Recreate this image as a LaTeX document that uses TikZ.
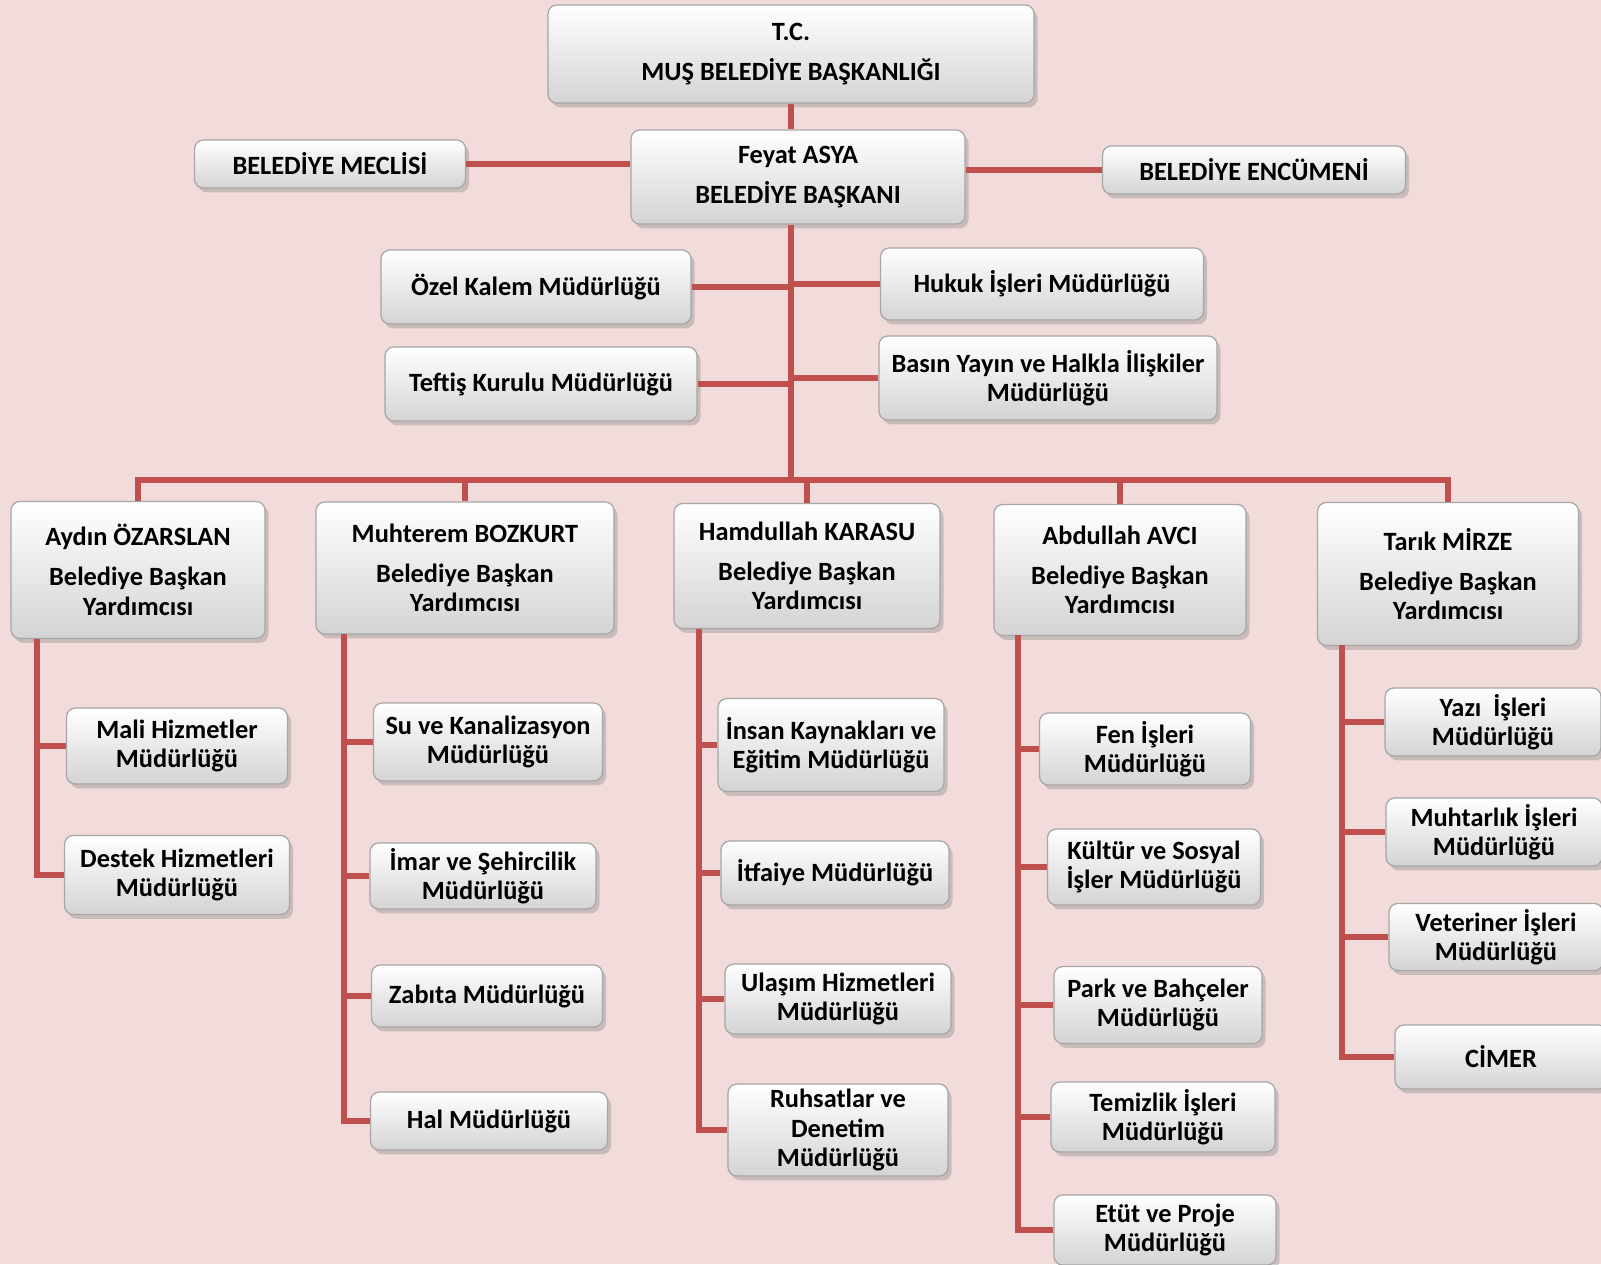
\documentclass[tikz,border=0pt]{standalone}
\usepackage{fontspec}
\setmainfont{Carlito}
\usetikzlibrary{shadows}
\definecolor{bgpink}{HTML}{F2DCDB}
\definecolor{linered}{HTML}{C0504D}

\begin{document}
\begin{tikzpicture}[x=0.02cm,y=-0.02cm,
    org node/.style={rectangle,rounded corners=5pt,draw=black!35,line width=0.7pt,
      top color=white,bottom color=black!17,align=center,inner sep=1pt,
      font=\fontsize{15}{16.8}\selectfont\bfseries,
      drop shadow={opacity=0.35,shadow xshift=2pt,shadow yshift=-2.5pt}},
    box size/.style 2 args={minimum width=#1*0.02cm,minimum height=#2*0.02cm},
    link/.style={draw=linered,line width=3.8pt}]
  \path[use as bounding box,clip] (0,0) rectangle (1601,1264);
  \fill[bgpink] (0,0) rectangle (1601,1264);

  % top of the chart
  \node[org node,box size={486}{98}] (tc) at (791,54) {T.C.\\[6pt]MUŞ BELEDİYE BAŞKANLIĞI};
  \node[org node,box size={334}{94}] (baskan) at (798,177) {Feyat ASYA\\[6pt]BELEDİYE BAŞKANI};
  \node[org node,box size={271}{48}] (meclis) at (330,164) {BELEDİYE MECLİSİ};
  \node[org node,box size={303}{48}] (encumen) at (1254,170) {BELEDİYE ENCÜMENİ};
  \node[org node,box size={310}{74}] (ozel) at (536,287) {Özel Kalem Müdürlüğü};
  \node[org node,box size={323}{72}] (hukuk) at (1042,284) {Hukuk İşleri Müdürlüğü};
  \node[org node,box size={312}{74}] (teftis) at (541,384) {Teftiş Kurulu Müdürlüğü};
  \node[org node,box size={338}{84}] (basin) at (1048,378) {Basın Yayın ve Halkla İlişkiler\\Müdürlüğü};

  % deputies
  \node[org node,box size={254}{137}] (yrd1) at (138,570) {Aydın ÖZARSLAN\\[6pt]Belediye Başkan\\Yardımcısı};
  \node[org node,box size={298}{132}] (yrd2) at (465,568) {Muhterem BOZKURT\\[6pt]Belediye Başkan\\Yardımcısı};
  \node[org node,box size={266}{125}] (yrd3) at (807,566) {Hamdullah KARASU\\[6pt]Belediye Başkan\\Yardımcısı};
  \node[org node,box size={252}{131}] (yrd4) at (1120,570) {Abdullah AVCI\\[6pt]Belediye Başkan\\Yardımcısı};
  \node[org node,box size={261}{143}] (yrd5) at (1448,574) {Tarık MİRZE\\[6pt]Belediye Başkan\\Yardımcısı};

  % units
  \node[org node,box size={221}{76}] (mali) at (177,746) {Mali Hizmetler\\Müdürlüğü};
  \node[org node,box size={225}{79}] (destek) at (177,875) {Destek Hizmetleri\\Müdürlüğü};

  \node[org node,box size={229}{78}] (su) at (488,742) {Su ve Kanalizasyon\\Müdürlüğü};
  \node[org node,box size={226}{66}] (imar) at (483,876) {İmar ve Şehircilik\\Müdürlüğü};
  \node[org node,box size={231}{62}] (zabita) at (487,996) {Zabıta Müdürlüğü};
  \node[org node,box size={237}{58}] (hal) at (489,1121) {Hal Müdürlüğü};

  \node[org node,box size={226}{93}] (insan) at (831,745) {İnsan Kaynakları ve\\Eğitim Müdürlüğü};
  \node[org node,box size={228}{64}] (itfaiye) at (835,873) {İtfaiye Müdürlüğü};
  \node[org node,box size={226}{70}] (ulasim) at (838,999) {Ulaşım Hizmetleri\\Müdürlüğü};
  \node[org node,box size={220}{92}] (ruhsat) at (838,1130) {Ruhsatlar ve\\Denetim\\Müdürlüğü};

  \node[org node,box size={211}{72}] (fen) at (1145,749) {Fen İşleri\\Müdürlüğü};
  \node[org node,box size={213}{76}] (kultur) at (1154,867) {Kültür ve Sosyal\\İşler Müdürlüğü};
  \node[org node,box size={208}{77}] (park) at (1158,1005) {Park ve Bahçeler\\Müdürlüğü};
  \node[org node,box size={224}{70}] (temizlik) at (1163,1117) {Temizlik İşleri\\Müdürlüğü};
  \node[org node,box size={222}{70}] (etut) at (1165,1230) {Etüt ve Proje\\Müdürlüğü};

  \node[org node,box size={216}{68}] (yazi) at (1493,722) {Yazı\ \ İşleri\\Müdürlüğü};
  \node[org node,box size={216}{68}] (muhtar) at (1494,832) {Muhtarlık İşleri\\Müdürlüğü};
  \node[org node,box size={214}{67}] (veteriner) at (1496,937) {Veteriner İşleri\\Müdürlüğü};
  \node[org node,box size={212}{64}] (cimer) at (1501,1057) {CİMER};

  % connectors
  \coordinate (bus) at (791,480);
  \coordinate (s1) at (37,639);
  \coordinate (s2) at (344,634);
  \coordinate (s3) at (699,629);
  \coordinate (s4) at (1018,635);
  \coordinate (s5) at (1342,645);

  \draw[link] (tc.south) -- (baskan.north -| tc.south);
  \draw[link] (baskan.south -| tc.south) -- (bus);
  \draw[link] (meclis.east) -- (meclis.east -| baskan.west);
  \draw[link] (baskan.east |- encumen.west) -- (encumen.west);
  \draw[link] (ozel.east) -- (ozel.east -| bus);
  \draw[link] (teftis.east) -- (teftis.east -| bus);
  \draw[link] (hukuk.west) -- (hukuk.west -| bus);
  \draw[link] (basin.west) -- (basin.west -| bus);
  \draw[link] (yrd1.north) -- (yrd1.north |- bus) -- (yrd5.north |- bus) -- (yrd5.north);
  \foreach \n in {yrd2,yrd3,yrd4}
    \draw[link] (\n.north) -- (\n.north |- bus);

  \foreach \s/\u in {s1/mali,s1/destek,s2/su,s2/imar,s2/zabita,s2/hal,
                     s3/insan,s3/itfaiye,s3/ulasim,s3/ruhsat,
                     s4/fen,s4/kultur,s4/park,s4/temizlik,s4/etut,
                     s5/yazi,s5/muhtar,s5/veteriner,s5/cimer}
    \draw[link] (\s) |- (\u.west);
\end{tikzpicture}
\end{document}
